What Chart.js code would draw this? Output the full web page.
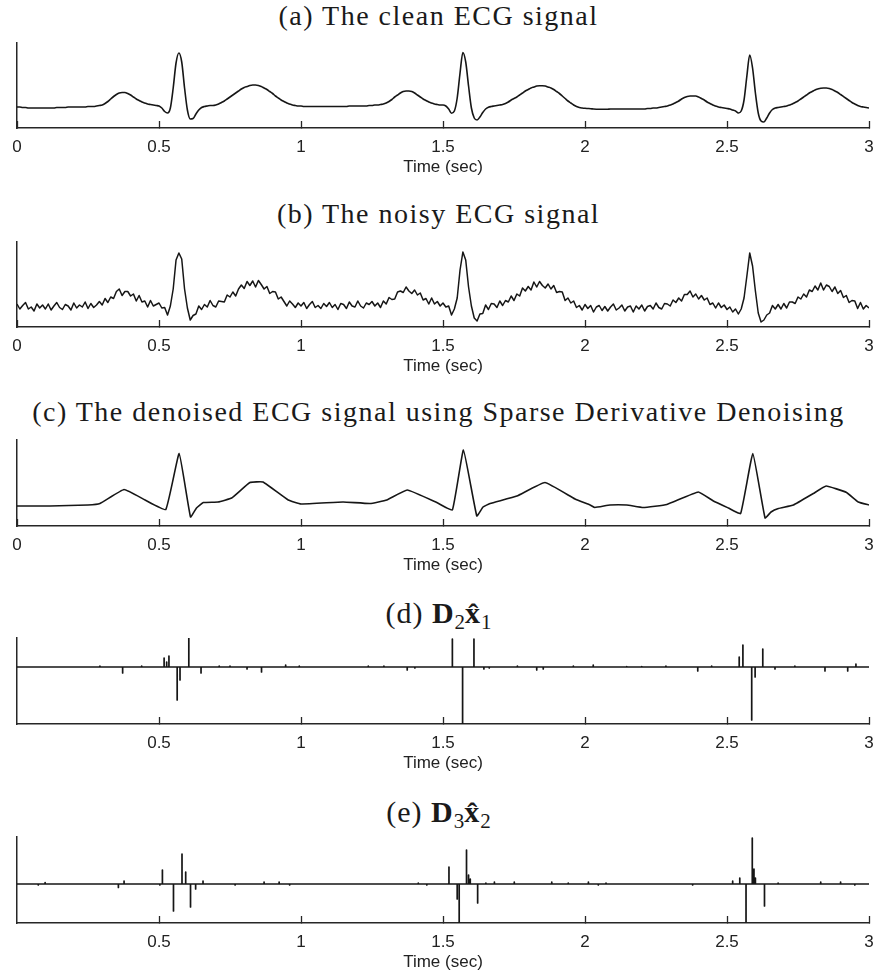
<!DOCTYPE html>
<html>
<head>
<meta charset="utf-8">
<title>ECG denoising</title>
<script src="https://cdn.jsdelivr.net/npm/chart.js@4.4.1/dist/chart.umd.min.js"></script>
<style>
  body { margin: 0; background: #fff; }
  #fig { position: relative; width: 877px; height: 979px; overflow: hidden; background: #fff; }
  .title {
    position: absolute; left: 0; width: 877px; text-align: center;
    font-family: "Liberation Serif", serif; font-size: 28px; line-height: 28px;
    letter-spacing: 1.5px; color: #1a1a1a; white-space: nowrap;
  }
  .title.math { font-size: 30px; line-height: 30px; letter-spacing: 1px; }
  .title sub { font-size: 70%; vertical-align: -0.3em; line-height: 0; letter-spacing: 0; }
  canvas { position: absolute; left: 0; }
</style>
</head>
<body>
<div id="fig">
  <div class="title" style="top:2px">(a) The clean ECG signal</div>
  <div class="title" style="top:200px">(b) The noisy ECG signal</div>
  <div class="title" style="top:398px">(c) The denoised ECG signal using Sparse Derivative Denoising</div>
  <div class="title math" style="top:598px">(d) <b>D</b><sub>2</sub><b>x̂</b><sub>1</sub></div>
  <div class="title math" style="top:797px">(e) <b>D</b><sub>3</sub><b>x̂</b><sub>2</sub></div>
  <canvas id="chartA"></canvas>
  <canvas id="chartB"></canvas>
  <canvas id="chartC"></canvas>
  <canvas id="chartD"></canvas>
  <canvas id="chartE"></canvas>
</div>
<script>
"use strict";

// x ticks (seconds)
const xTicksFull = [0, 0.5, 1, 1.5, 2, 2.5, 3];
const xTicksNoZero = [0.5, 1, 1.5, 2, 2.5, 3];

// (a) clean ECG, sampled every 0.01 s from 0 to 3 s
const cleanEcg = [
  21, 21, 20.5, 20.5, 20, 20, 20, 20, 20, 20,
  20, 20, 20, 20, 20.5, 20.5, 20.5, 20.5, 21, 21,
  21, 21, 21, 21, 21, 21.5, 21.5, 21.5, 22, 22.5,
  23, 24.5, 26.5, 29, 31.5, 33.5, 35, 35.5, 35.5, 34.5,
  33, 31, 29, 27.5, 26, 25, 24, 23.5, 23, 22.5,
  22, 20, 16.5, 15, 20, 40, 65, 75, 66, 40,
  18, 9, 9.5, 14, 18, 20.5, 21.5, 22, 22.5, 22.5,
  23, 24, 25.5, 27, 29, 31, 33, 35, 37, 39,
  40.5, 41.5, 42.5, 43, 43, 42.5, 41.5, 40, 38.5, 36.5,
  34.5, 32, 30, 28, 26.5, 25, 24, 23, 22.5, 22,
  22, 21.5, 21.5, 21.5, 21.5, 21.5, 21.5, 21.5, 21.5, 21.5,
  21.5, 21.5, 21.5, 21.5, 21.5, 21.5, 21.5, 22, 22, 22,
  22, 22, 22, 22, 22.5, 22.5, 23, 23, 23.5, 24,
  25, 26.5, 28.5, 31, 33, 35, 36.5, 37, 37, 36.5,
  35, 33, 31, 29, 27.5, 26, 25, 24, 23.5, 23,
  23, 22, 19, 14.8, 17, 30, 55, 75.5, 66, 42,
  20, 10, 8, 11, 15.5, 19, 20.7, 21.5, 22, 22.5,
  23, 23.5, 24.5, 26, 28, 29.5, 31, 33, 35, 37,
  38.5, 40, 41, 42, 42.3, 42.3, 42, 41, 40, 38.5,
  36.5, 34.5, 32, 29.5, 27, 25, 23, 21.5, 20.5, 20,
  19.7, 19.5, 19.3, 19, 18.8, 18.7, 18.7, 18.7, 18.8, 19,
  19, 19, 19, 19, 19, 19, 19, 19, 19, 19,
  19, 19, 19.5, 19.5, 20, 20, 20.5, 21, 21.5, 22,
  23, 24, 25.5, 27, 29, 30.5, 31.5, 32, 32, 32,
  31, 29.5, 28, 26, 24.5, 23, 22, 21, 20.5, 20,
  19.5, 19, 18, 17, 15, 17, 28, 52, 73, 60,
  35, 15, 7, 6, 10, 15, 18.5, 20, 20.5, 21,
  21.5, 22, 23, 24, 25.5, 27, 29, 31, 33, 35,
  36.5, 38, 39, 39.8, 40, 40, 39.5, 38.5, 37, 35.5,
  33.5, 31.5, 29.5, 27.5, 25.5, 24, 22.5, 21.5, 21, 20.5,
  20
];

// (b) noisy ECG, same sampling
const noisyEcg = [
  23, 18, 21.5, 24.5, 18, 20, 16, 23, 19, 22,
  18, 23, 17, 21, 24.5, 19.5, 17.5, 22.5, 21, 17,
  24, 19, 22, 20, 25, 18.5, 23.5, 19.5, 22, 25.5,
  22, 28.5, 24.5, 30, 28.5, 35.5, 38, 31.5, 35.5, 35.5,
  31, 33, 26, 31.5, 25, 26, 20, 26.5, 21, 22.5,
  24, 19, 19.5, 12, 21, 38, 67, 74, 68, 38,
  19, 7, 11.5, 13, 21, 17.5, 22.5, 20, 26.5, 21.5,
  20, 26, 25.5, 25, 32, 30, 35, 31, 38, 42,
  38.5, 45.5, 41.5, 46, 40, 46.5, 42.5, 38, 40.5, 33.5,
  35.5, 35, 28, 30, 25.5, 21, 26, 23, 19.5, 24,
  21, 24.5, 18.5, 22.5, 25.5, 19.5, 21.5, 18.5, 23.5, 20.5,
  24.5, 19.5, 22.5, 17.5, 23.5, 22.5, 18.5, 25, 21, 20,
  26, 21, 19, 24, 22.5, 25.5, 21, 24, 19.5, 26,
  23, 29.5, 27.5, 28, 35, 36, 34.5, 40, 36, 33.5,
  37, 32, 34, 27, 28.5, 23, 29, 23, 25.5, 21,
  24, 20, 21, 12, 18, 29, 57, 75, 67, 40,
  21, 9, 6, 13, 13.5, 22, 17.5, 23.5, 23, 19.5,
  26, 21.5, 26.5, 25, 31, 26.5, 33, 31, 39, 36,
  40.5, 37, 45, 40, 45.5, 41.5, 39, 43, 38, 41.5,
  34.5, 35.5, 35, 26.5, 29, 24, 26, 19.5, 21.5, 17,
  22.5, 18.5, 21.5, 15, 20, 21.5, 16.5, 20.5, 16, 20,
  23, 17, 19, 22, 16, 20, 21, 15, 21, 18,
  22, 16, 20.5, 21.5, 18, 24, 19.5, 18, 23.5, 23,
  21, 27, 24.5, 29, 26, 32.5, 32.5, 36, 30, 33,
  28, 31.5, 27, 29, 22.5, 24, 19, 24, 19.5, 22,
  17.5, 20, 15, 18, 13, 18, 29, 51, 74, 61,
  36, 14, 5, 7, 12, 14, 21.5, 18, 22.5, 18,
  23.5, 19, 25, 25, 23.5, 30, 28, 33, 30, 37,
  35.5, 41, 37, 44, 37, 42, 40.5, 35.5, 40, 33.5,
  36.5, 29.5, 31.5, 24.5, 26.5, 26, 18.5, 24.5, 18, 21.5,
  19
];

const sampleTime = cleanEcg.map((_, i) => i / 100);

// (c) denoised ECG (piecewise)
const denoisedTime = [
  0, 0.116, 0.25, 0.292, 0.377, 0.451, 0.524, 0.571, 0.611, 0.632, 0.656, 0.708,
  0.756, 0.82, 0.866, 0.955, 1.0, 1.148, 1.243, 1.302, 1.374, 1.478,
  1.533, 1.572, 1.619, 1.641, 1.666, 1.76, 1.859, 1.965, 2.018, 2.035, 2.088,
  2.147, 2.205, 2.288, 2.399, 2.452, 2.505, 2.548, 2.591, 2.634, 2.655, 2.681,
  2.734, 2.804, 2.849, 2.921, 2.962, 3.0
];
const denoisedValue = [
  20, 20, 21, 22.5, 36.5, 26, 16.5, 72.5, 9, 18, 23.5, 24,
  28, 43.5, 44, 26, 22, 24, 22.5, 26, 36, 23.5,
  16, 76, 10, 19, 22.5, 30, 43.5, 27, 21, 18.5, 21,
  21, 18.5, 21.5, 34, 25, 18, 12.5, 72.5, 8, 14, 17.5,
  21, 32.5, 40, 33.5, 24, 21
];

// (d) D2 x1 : sparse spikes, zero elsewhere
const spikeTimeD = [
  0.292, 0.372, 0.439, 0.518, 0.527, 0.535, 0.564, 0.574, 0.605, 0.648,
  0.712, 0.75, 0.81, 0.861, 0.946, 0.994, 1.237, 1.292, 1.374, 1.401,
  1.533, 1.569, 1.609, 1.644, 1.663, 1.762, 1.83, 1.853, 1.959, 2.029,
  2.147, 2.2, 2.285, 2.397, 2.446, 2.543, 2.556, 2.587, 2.599, 2.626,
  2.669, 2.739, 2.845, 2.925, 2.954
];
const spikeValueD = [
  1, -6, 1, 9, 5, 11, -33, -13, 29, -6,
  1, 1, -2, -5, 2, 1, 1, 1, -3, -1,
  28, -57, 28, -2, -1, 1, -3, -2, 1, 2,
  0.5, 0.5, 1, -4, 1, 10, 22, -53, -10, 18,
  -2, 1, -4, -4, 3
];

// (e) D3 x2 : sparse spikes, zero elsewhere
const spikeTimeE = [
  0.075, 0.099, 0.357, 0.377, 0.503, 0.512, 0.551, 0.581, 0.594, 0.611,
  0.629, 0.655, 0.768, 0.87, 0.923, 0.96, 1.413, 1.443, 1.521, 1.55,
  1.557, 1.581, 1.584, 1.59, 1.596, 1.622, 1.651, 1.681, 1.751, 1.883,
  1.941, 2.012, 2.047, 2.074, 2.379, 2.52, 2.545, 2.567, 2.589, 2.595,
  2.6, 2.632, 2.68, 2.83, 2.9, 2.95
];
const spikeValueE = [
  -1, 1.5, -3.5, 3, -1, 14, -27, 30, 12, -23,
  -5, 3, -1, 2, 2, -1, 1, -1, 17, -15,
  -39, 34, 18, 9, 5, -19, 1, 2, 2, 2,
  1, 2, -1, 1, -1, 3, 6, -38, 46, 15,
  6, -22, 1, 2, 2, -1
];

const INK = '#161616';
const AXIS = '#262626';
const PAD_TOP = 8;
const SCALE_H = 52;

function toPoints(xs, ys) {
  return ys.map((v, i) => ({ x: xs[i], y: v }));
}

function spikesToPoints(times, values) {
  const pts = [{ x: 0, y: 0 }];
  times.forEach((t, i) => {
    pts.push({ x: t, y: 0 }, { x: t, y: values[i] }, { x: t, y: 0 });
  });
  pts.push({ x: 3, y: 0 });
  return pts;
}

function makeChart(canvasId, plotTop, axisY, points, yMin, yMax, tickValues, lineOpts) {
  const canvas = document.getElementById(canvasId);
  canvas.width = 877;
  canvas.height = axisY - plotTop + PAD_TOP + SCALE_H;
  canvas.style.top = (plotTop - PAD_TOP) + 'px';

  return new Chart(canvas.getContext('2d'), {
    type: 'line',
    data: {
      datasets: [Object.assign({
        data: points,
        borderColor: INK,
        borderWidth: 1.6,
        pointRadius: 0,
        fill: false,
        tension: 0,
        borderJoinStyle: 'round'
      }, lineOpts)]
    },
    options: {
      responsive: false,
      animation: false,
      devicePixelRatio: 1,
      layout: { padding: { top: PAD_TOP, left: 17, right: 8, bottom: 0 } },
      plugins: { legend: { display: false }, tooltip: { enabled: false } },
      scales: {
        x: {
          type: 'linear',
          min: 0,
          max: 3,
          afterBuildTicks: scale => { scale.ticks = tickValues.map(v => ({ value: v })); },
          afterFit: scale => {
            // keep the plot box at a fixed place, labels may overhang
            scale.height = SCALE_H;
            scale.paddingLeft = 0;
            scale.paddingRight = 0;
          },
          border: { display: true, color: AXIS, width: 1.5 },
          grid: { display: true, drawOnChartArea: false, drawTicks: true, tickLength: -7, tickColor: AXIS, tickWidth: 1.3 },
          ticks: {
            color: '#222',
            font: { family: 'Liberation Sans', size: 17 },
            padding: 16,
            maxRotation: 0,
            autoSkip: false,
            callback: v => String(v)
          },
          title: {
            display: true,
            text: 'Time (sec)',
            color: '#222',
            font: { family: 'Liberation Sans', size: 17 },
            padding: { top: 0, bottom: 2 }
          }
        },
        y: {
          min: yMin,
          max: yMax,
          afterFit: scale => { scale.width = 0; },
          border: { display: true, color: AXIS, width: 1.5 },
          grid: { display: false },
          ticks: { display: false }
        }
      }
    }
  });
}

makeChart('chartA', 43, 128, toPoints(sampleTime, cleanEcg), 0, 85, xTicksFull,
  { cubicInterpolationMode: 'monotone' });
makeChart('chartB', 242, 327, toPoints(sampleTime, noisyEcg), 0, 85, xTicksFull,
  { borderWidth: 1.5 });
makeChart('chartC', 440, 526, toPoints(denoisedTime, denoisedValue), 0, 86, xTicksFull,
  { tension: 0.1 });
makeChart('chartD', 638, 724, spikesToPoints(spikeTimeD, spikeValueD), -57, 29, xTicksNoZero,
  { borderWidth: 1.7 });
makeChart('chartE', 837, 923, spikesToPoints(spikeTimeE, spikeValueE), -39, 47, xTicksNoZero,
  { borderWidth: 1.7 });
</script>
</body>
</html>
